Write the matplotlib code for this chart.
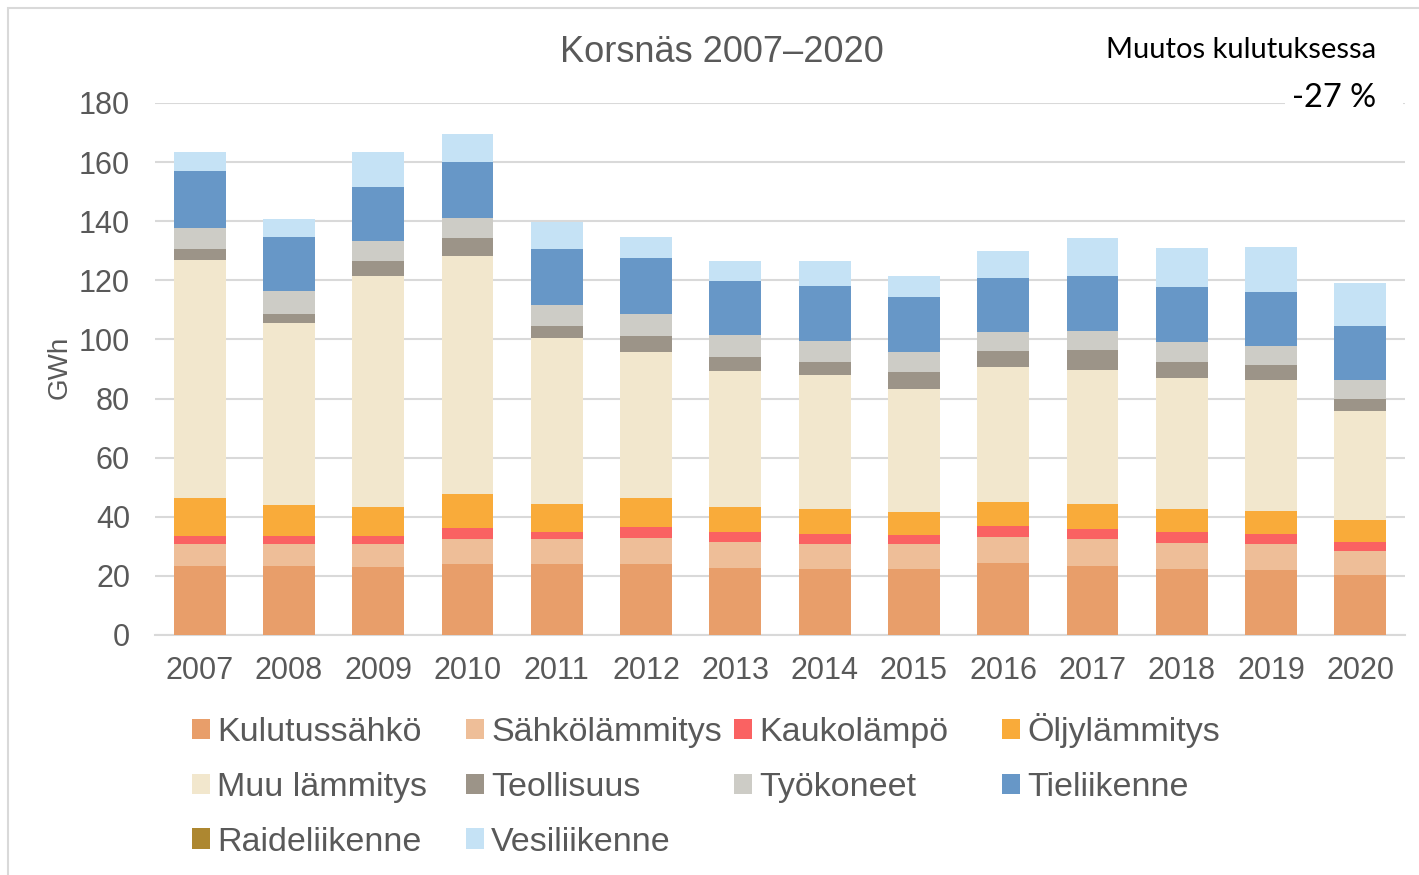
import matplotlib
matplotlib.use("Agg")
import matplotlib.pyplot as plt
from matplotlib.patches import Rectangle, Patch
import numpy as np

plt.rcParams["font.family"] = ["Liberation Sans", "DejaVu Sans"]

years = ["2007", "2008", "2009", "2010", "2011", "2012", "2013",
         "2014", "2015", "2016", "2017", "2018", "2019", "2020"]

categories = ["Kulutussähkö", "Sähkölämmitys", "Kaukolämpö", "Öljylämmitys",
              "Muu lämmitys", "Teollisuus", "Työkoneet", "Tieliikenne",
              "Raideliikenne", "Vesiliikenne"]

kulutussahko  = [23.5, 23.5, 23.1, 23.9, 24.1, 24.1, 22.8, 22.4, 22.4, 24.2, 23.3, 22.4, 22.0, 20.3]
sahkolammitys = [7.3, 7.3, 7.7, 8.7, 8.3, 8.7, 8.7, 8.3, 8.3, 9.0, 9.1, 8.7, 8.7, 8.1]
kaukolampo    = [2.7, 2.7, 2.7, 3.5, 2.6, 3.7, 3.2, 3.5, 3.1, 3.6, 3.5, 3.6, 3.5, 3.2]
oljylammitys  = [13.0, 10.4, 9.9, 11.7, 9.2, 9.9, 8.7, 8.3, 7.8, 8.3, 8.3, 7.8, 7.8, 7.4]
muu_lammitys  = [80.4, 61.8, 78.2, 80.4, 56.2, 49.5, 45.9, 45.6, 41.6, 45.6, 45.3, 44.4, 44.4, 36.9]
teollisuus    = [3.6, 3.0, 4.8, 6.1, 4.3, 5.4, 4.9, 4.4, 5.8, 5.3, 7.0, 5.6, 4.9, 4.0]
tyokoneet     = [7.2, 7.8, 7.0, 6.9, 6.9, 7.3, 7.3, 6.9, 6.9, 6.5, 6.5, 6.5, 6.4, 6.4]
tieliikenne   = [19.2, 18.3, 18.2, 18.8, 18.9, 18.8, 18.4, 18.8, 18.4, 18.4, 18.3, 18.8, 18.4, 18.4]
raideliikenne = [0.0] * 14
vesiliikenne  = [6.5, 6.0, 11.8, 9.5, 9.2, 7.3, 6.5, 8.2, 7.3, 9.0, 12.9, 13.0, 15.2, 14.3]

series = [kulutussahko, sahkolammitys, kaukolampo, oljylammitys, muu_lammitys,
          teollisuus, tyokoneet, tieliikenne, raideliikenne, vesiliikenne]

colors = ["#E89E6A", "#EEBE98", "#FA6262", "#F9AB3A", "#F2E7CD",
          "#9C9488", "#CDCCC6", "#6797C7", "#AD8730", "#C5E2F5"]

title = "Korsnäs 2007–2020"
change_label = "Muutos kulutuksessa"
change_value = "-27 %"

W, H = 1419, 875
fig = plt.figure(figsize=(W / 100, H / 100), dpi=100)
fig.patch.set_facecolor("white")

# outer frame
fig.patches.append(Rectangle((8 / W, -0.1), 1.2, 1 - 8 / H + 0.1, transform=fig.transFigure,
                             fill=False, edgecolor="#D9D9D9", linewidth=1.5))

ax = fig.add_axes([155 / W, 1 - 635 / H, (1405 - 155) / W, (635 - 103) / H])
x = np.arange(len(years))
bottom = np.zeros(len(years))
for vals, col, name in zip(series, colors, categories):
    ax.bar(x, vals, width=0.58, bottom=bottom, color=col, label=name,
           edgecolor="none", zorder=3)
    bottom += np.array(vals)

ax.set_xlim(-0.5, len(years) - 0.5)
ax.set_ylim(0, 180)
ax.set_yticks(np.arange(0, 181, 20))
ax.set_xticks(x)
ax.set_xticklabels(years)
ax.yaxis.grid(True, color="#D9D9D9", linewidth=1.5, zorder=0)
ax.set_axisbelow(True)
for s in ["top", "right", "left"]:
    ax.spines[s].set_visible(False)
ax.spines["bottom"].set_color("#D9D9D9")
ax.spines["bottom"].set_linewidth(1.5)
ax.tick_params(axis="both", length=0, labelsize=22, labelcolor="#595959")
ax.tick_params(axis="y", pad=18)
ax.tick_params(axis="x", pad=15)
ax.set_ylabel("GWh", fontsize=20, color="#595959", va="center")
ax.yaxis.set_label_coords((60 - 155) / 1250, (635 - 367) / 532)

fig.text(722 / W, 1 - 62 / H, title, ha="center", va="baseline", fontsize=26,
         color="#595959")
fig.text(1376 / W, 1 - 58 / H, change_label, ha="right", va="baseline", fontsize=21,
         color="black", family="Lato")
fig.patches.append(Rectangle((1285 / W, 1 - 112 / H), 118 / W, 30 / H,
                             transform=fig.transFigure, facecolor="white",
                             edgecolor="none", zorder=2))
fig.text(1376 / W, 1 - 107 / H, change_value, ha="right", va="baseline", fontsize=23.5,
         color="black", family="Lato", zorder=3)

# legend: Excel row-major layout, 4 columns
col_x = [192, 466, 734, 1002]
order = [[0, 4, 8], [1, 5, 9], [2, 6], [3, 7]]
legends = []
for cx, idxs in zip(col_x, order):
    handles = [Patch(facecolor=colors[i], edgecolor="none") for i in idxs]
    labels = [categories[i] for i in idxs]
    leg = fig.legend(handles, labels, loc="upper left", bbox_to_anchor=(cx / W, 1 - 717 / H),
                     frameon=False, handlelength=0.54, handleheight=0.54,
                     handletextpad=0.2, labelspacing=0.70, borderaxespad=0, borderpad=0,
                     labelcolor="#595959", prop={"family": "Liberation Sans", "size": 24.5})
    legends.append((leg, cx))

# align first-row handles of all legend columns vertically
fig.canvas.draw()
ref_y = legends[0][0].legend_handles[0].get_window_extent().y0
for leg, cx in legends[1:]:
    dy = ref_y - leg.legend_handles[0].get_window_extent().y0
    leg.set_bbox_to_anchor((cx / W, 1 - 717 / H + dy / H), transform=fig.transFigure)

fig.savefig("out.png", dpi=100)
